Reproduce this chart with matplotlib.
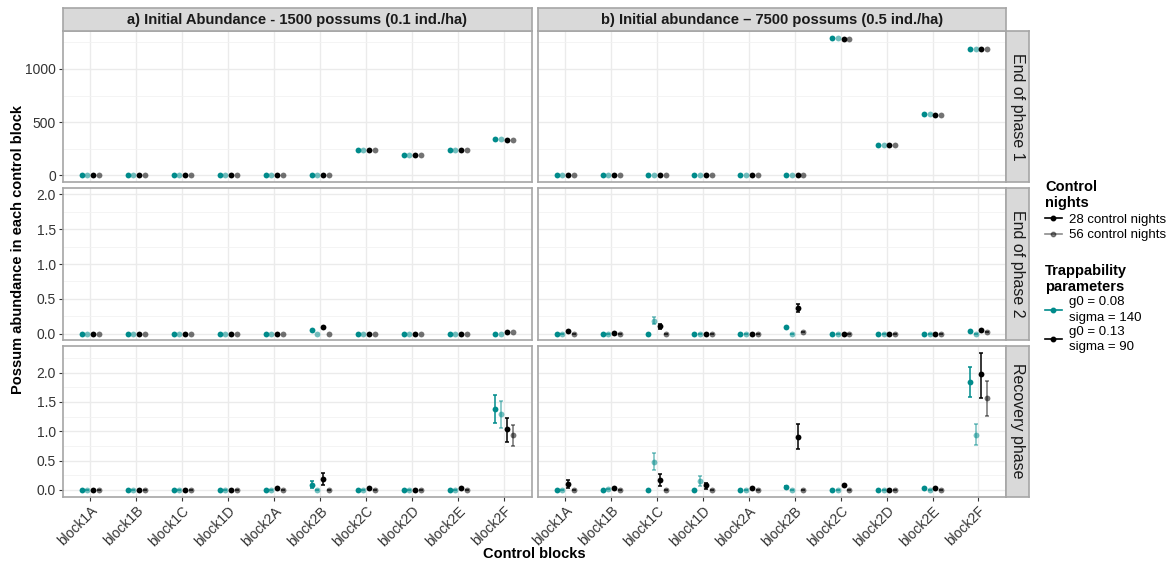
import numpy as np
import matplotlib.pyplot as plt
from matplotlib.lines import Line2D
from matplotlib.ticker import MultipleLocator

plt.rcParams['font.family'] = ['Liberation Sans', 'DejaVu Sans']

blocks = ["block1A", "block1B", "block1C", "block1D", "block2A",
          "block2B", "block2C", "block2D", "block2E", "block2F"]
col_titles = ["a) Initial Abundance - 1500 possums (0.1 ind./ha)",
              "b) Initial abundance \u2013 7500 possums (0.5 ind./ha)"]
row_titles = ["End of phase 1", "End of phase 2", "Recovery phase"]

# series order: g0=0.08/28 nights, g0=0.08/56 nights, g0=0.13/28 nights, g0=0.13/56 nights
# --- a) 1500 possums ---
a_phase1 = [[0, 0, 0, 0, 0, 0, 237, 190, 237, 337],
            [0, 0, 0, 0, 0, 0, 237, 190, 237, 337],
            [0, 0, 0, 0, 0, 0, 234, 188, 234, 331],
            [0, 0, 0, 0, 0, 0, 234, 188, 234, 335]]
a_phase2 = [[0, 0, 0, 0, 0, 0.053, 0, 0, 0, 0],
            [0, 0, 0, 0, 0, 0, 0, 0, 0, 0],
            [0, 0, 0, 0, 0, 0.097, 0, 0, 0, 0.024],
            [0, 0, 0, 0, 0, 0, 0, 0, 0, 0.03]]
a_recov = [[0, 0, 0, 0, 0, 0.09, 0, 0, 0, 1.38],
           [0, 0, 0, 0, 0, 0, 0, 0, 0, 1.29],
           [0, 0, 0, 0, 0.034, 0.19, 0.023, 0, 0.023, 1.03],
           [0, 0, 0, 0, 0, 0, 0, 0, 0, 0.93]]
a_recov_lo = [[0, 0, 0, 0, 0, 0.034, 0, 0, 0, 1.145],
              [0, 0, 0, 0, 0, 0, 0, 0, 0, 1.05],
              [0, 0, 0, 0, 0.034, 0.08, 0.023, 0, 0.023, 0.82],
              [0, 0, 0, 0, 0, 0, 0, 0, 0, 0.75]]
a_recov_hi = [[0, 0, 0, 0, 0, 0.147, 0, 0, 0, 1.615],
              [0, 0, 0, 0, 0, 0, 0, 0, 0, 1.52],
              [0, 0, 0, 0, 0.034, 0.29, 0.023, 0, 0.023, 1.23],
              [0, 0, 0, 0, 0, 0, 0, 0, 0, 1.10]]

# --- b) 7500 possums ---
b_phase1 = [[0, 0, 0, 0, 0, 0, 1287, 287, 572, 1187],
            [0, 0, 0, 0, 0, 0, 1287, 287, 572, 1187],
            [0, 0, 0, 0, 0, 0, 1285, 285, 570, 1185],
            [0, 0, 0, 0, 0, 0, 1285, 285, 570, 1185]]
b_phase2 = [[0, 0, 0, 0, 0, 0.097, 0, 0, 0, 0.043],
            [0, 0, 0.19, 0, 0, 0, 0, 0, 0, 0],
            [0.034, 0.015, 0.106, 0, 0, 0.367, 0, 0, 0, 0.058],
            [0, 0, 0, 0, 0, 0.024, 0, 0, 0, 0.024]]
b_phase2_lo = [[0, 0, 0, 0, 0, 0.097, 0, 0, 0, 0.043],
               [0, 0, 0.14, 0, 0, 0, 0, 0, 0, 0],
               [0.034, 0.015, 0.068, 0, 0, 0.31, 0, 0, 0, 0.058],
               [0, 0, 0, 0, 0, 0.024, 0, 0, 0, 0.024]]
b_phase2_hi = [[0, 0, 0, 0, 0, 0.097, 0, 0, 0, 0.043],
               [0, 0, 0.237, 0, 0, 0, 0, 0, 0, 0],
               [0.034, 0.015, 0.145, 0, 0, 0.425, 0, 0, 0, 0.058],
               [0, 0, 0, 0, 0, 0.024, 0, 0, 0, 0.024]]
b_recov = [[0, 0, 0, 0, 0, 0.045, 0, 0, 0.034, 1.84],
           [0, 0.017, 0.48, 0.147, 0, 0, 0, 0, 0, 0.94],
           [0.096, 0.034, 0.16, 0.074, 0.023, 0.906, 0.085, 0, 0.023, 1.97],
           [0, 0, 0, 0, 0, 0, 0, 0, 0, 1.56]]
b_recov_lo = [[0, 0, 0, 0, 0, 0.03, 0, 0, 0.034, 1.59],
              [0, 0.017, 0.34, 0.07, 0, 0, 0, 0, 0, 0.76],
              [0.034, 0.034, 0.057, 0.02, 0.023, 0.70, 0.085, 0, 0.023, 1.57],
              [0, 0, 0, 0, 0, 0, 0, 0, 0, 1.26]]
b_recov_hi = [[0, 0, 0, 0, 0, 0.06, 0, 0, 0.034, 2.10],
              [0, 0.017, 0.62, 0.23, 0, 0, 0, 0, 0, 1.12],
              [0.16, 0.034, 0.27, 0.11, 0.023, 1.12, 0.085, 0, 0.023, 2.34],
              [0, 0, 0, 0, 0, 0, 0, 0, 0, 1.85]]

panels = [[(a_phase1, None, None), (b_phase1, None, None)],
          [(a_phase2, None, None), (b_phase2, b_phase2_lo, b_phase2_hi)],
          [(a_recov, a_recov_lo, a_recov_hi), (b_recov, b_recov_lo, b_recov_hi)]]

teal = "#008b8b"
colors = [teal, teal, "black", "black"]
alphas = [1.0, 0.55, 1.0, 0.55]
offsets = [-0.1875, -0.0625, 0.0625, 0.1875]

row_ylim = [(-64, 1357), (-0.082, 2.086), (-0.117, 2.457)]
row_major = [500, 0.5, 0.5]
row_minor = [250, 0.25, 0.25]

W, H = 1173, 563
fig = plt.figure(figsize=(W / 100, H / 100), dpi=100)


def rect(x0, y0, x1, y1):
    return [x0 / W, 1 - y1 / H, (x1 - x0) / W, (y1 - y0) / H]


cols_px = [(62.7, 531.7), (537.7, 1006)]
rows_px = [(31, 182), (188.3, 339.5), (345.7, 496.7)]
border = "#a6a6a6"
x = np.arange(len(blocks))

for r, (y0, y1) in enumerate(rows_px):
    for c, (x0, x1) in enumerate(cols_px):
        ax = fig.add_axes(rect(x0, y0, x1, y1))
        vals, lo, hi = panels[r][c]
        for s in range(4):
            xs = x + offsets[s]
            if lo is not None:
                ax.errorbar(xs, vals[s],
                            yerr=[np.array(vals[s]) - np.array(lo[s]),
                                  np.array(hi[s]) - np.array(vals[s])],
                            fmt="none", ecolor=colors[s], alpha=alphas[s],
                            elinewidth=1.1, capsize=1.5, capthick=1.1, zorder=3)
            ax.plot(xs, vals[s], "o", color=colors[s], alpha=alphas[s],
                    markersize=4.2, markeredgewidth=0, zorder=4)
        ax.set_xlim(-0.6, len(blocks) - 0.4)
        ax.set_ylim(*row_ylim[r])
        ax.yaxis.set_major_locator(MultipleLocator(row_major[r]))
        ax.yaxis.set_minor_locator(MultipleLocator(row_minor[r]))
        ax.set_xticks(x)
        ax.grid(True, which="major", color="#ebebeb", lw=1.0)
        ax.grid(True, which="minor", axis="y", color="#f2f2f2", lw=0.6)
        ax.set_axisbelow(True)
        for sp in ax.spines.values():
            sp.set_color(border)
            sp.set_linewidth(1.2)
        ax.tick_params(which="both", length=0, color="#333333", labelsize=10,
                       labelcolor="#333333", pad=2)
        ax.tick_params(which="major", length=3)
        ax.tick_params(which="minor", left=False)
        if c == 0:
            if r == 0:
                ax.set_yticklabels([f"{int(t)}" for t in ax.get_yticks()])
            else:
                ax.yaxis.set_major_formatter(plt.FormatStrFormatter("%.1f"))
        else:
            ax.tick_params(axis="y", which="both", length=0, labelleft=False)
        if r == 2:
            ax.set_xticklabels(blocks, rotation=45, ha="right",
                               rotation_mode="anchor", fontsize=10)
        else:
            ax.tick_params(axis="x", length=0, labelbottom=False)
        ax.set_ylim(*row_ylim[r])

        # right strips
        if c == 1:
            sax = fig.add_axes(rect(1006, y0, 1029, y1))
            sax.set_facecolor("#d9d9d9")
            sax.set_xticks([])
            sax.set_yticks([])
            for sp in sax.spines.values():
                sp.set_color(border)
                sp.set_linewidth(1.2)
            sax.text(0.5, 0.5, row_titles[r], rotation=-90, ha="center",
                     va="center", fontsize=11.5, color="#1a1a1a",
                     transform=sax.transAxes)

# top strips
for c, (x0, x1) in enumerate(cols_px):
    sax = fig.add_axes(rect(x0, 8.3, x1, 31))
    sax.set_facecolor("#d9d9d9")
    sax.set_xticks([])
    sax.set_yticks([])
    for sp in sax.spines.values():
        sp.set_color(border)
        sp.set_linewidth(1.2)
    sax.text(0.5, 0.5, col_titles[c], ha="center", va="center",
             fontsize=10.6, fontweight="bold", color="#1a1a1a",
             transform=sax.transAxes)

fig.text(18 / W, 1 - 250 / H, "Possum abundance in each control block",
         rotation=90, ha="center", va="center", fontsize=10.5,
         fontweight="bold")
fig.text(534 / W, 1 - 554 / H, "Control blocks", ha="center", va="center",
         fontsize=10.5, fontweight="bold")

# legends
nights_handles = [Line2D([], [], color="black", marker="o", markersize=3.2, lw=1.2),
                  Line2D([], [], color="black", alpha=0.45, marker="o",
                         markersize=3.2, lw=1.2)]
nights_labels = ["28 control nights", "56 control nights"]
trap_handles = [Line2D([], [], color=teal, marker="o", markersize=3.2, lw=1.2),
                Line2D([], [], color="black", marker="o", markersize=3.2, lw=1.2)]
trap_labels = ["g0 = 0.08\nsigma = 140", "g0 = 0.13\nsigma = 90"]

leg1 = fig.legend(nights_handles, nights_labels, title="Control\nnights",
                  loc="upper left", bbox_to_anchor=(1033 / W, 1 - 168 / H),
                  frameon=False, fontsize=9.5, handlelength=1.3,
                  handletextpad=0.5, labelspacing=0.25,
                  title_fontproperties={"weight": "bold", "size": 10.5})
leg1._legend_box.align = "left"
leg2 = fig.legend(trap_handles, trap_labels, title="Trappability\nparameters",
                  loc="upper left", bbox_to_anchor=(1033 / W, 1 - 252 / H),
                  frameon=False, fontsize=9.5, handlelength=1.3,
                  handletextpad=0.5, labelspacing=0.15,
                  title_fontproperties={"weight": "bold", "size": 10.5})
leg2._legend_box.align = "left"
for t in leg2.get_texts():
    t.set_linespacing(1.4)

fig.savefig("out.png", dpi=100)
